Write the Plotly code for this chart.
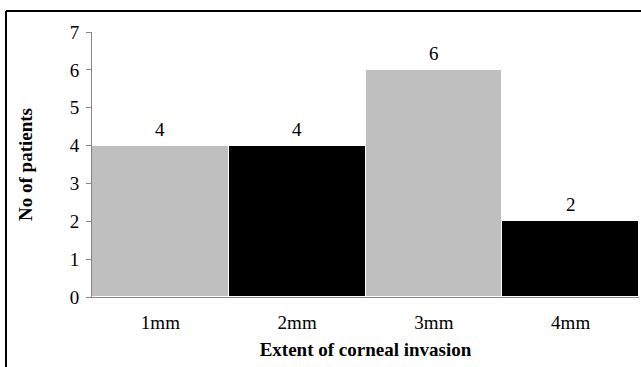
import plotly.graph_objects as go

# Extent of corneal invasion vs number of patients
categories = ["1mm", "2mm", "3mm", "4mm"]
patients = [4, 4, 6, 2]
bar_colors = ["#bfbfbf", "#000000", "#bfbfbf", "#000000"]
y_ticks = [0, 1, 2, 3, 4, 5, 6, 7]

FONT = "'Liberation Serif', 'Times New Roman', Times, serif"
AXIS_GREY = "#868686"

W, H = 641, 367
L, R, T, B = 92, 2, 32, 70
pw, ph = W - L - R, H - T - B


def px_to_paper_x(px):
    return (px - L) / pw


def px_to_paper_y(py):
    return (H - B - py) / ph


fig = go.Figure(
    go.Bar(
        x=categories,
        y=patients,
        width=1.0,
        marker=dict(color=bar_colors, line=dict(color="#ffffff", width=1)),
        hoverinfo="x+y",
    )
)

for c, v in zip(categories, patients):
    fig.add_annotation(
        x=c, y=v, text=str(v), showarrow=False,
        yanchor="bottom", yshift=4,
        font=dict(family=FONT, size=19, color="#000000"),
    )

# outer frame: only the left and top edges fall inside the canvas
frame = dict(xref="paper", yref="paper", line=dict(color="#000000", width=2), layer="above")
fig.add_shape(type="line", x0=px_to_paper_x(6), x1=px_to_paper_x(6),
              y0=px_to_paper_y(367), y1=px_to_paper_y(11), **frame)
fig.add_shape(type="line", x0=px_to_paper_x(6), x1=px_to_paper_x(641),
              y0=px_to_paper_y(11), y1=px_to_paper_y(11), **frame)

fig.update_layout(
    width=W, height=H,
    margin=dict(l=L, r=R, t=T, b=B, autoexpand=False),
    paper_bgcolor="#ffffff", plot_bgcolor="#ffffff",
    font=dict(family=FONT, size=19, color="#000000"),
    showlegend=False,
    bargap=0,
)

fig.update_xaxes(
    type="category",
    range=[-0.5, 3.5],
    showline=True, linecolor=AXIS_GREY, linewidth=1,
    ticks="", ticklabelstandoff=8,
    tickfont=dict(family=FONT, size=19),
    title=dict(text="<b>Extent of corneal invasion</b>", standoff=10,
               font=dict(family=FONT, size=19)),
    showgrid=False, zeroline=False,
)

fig.update_yaxes(
    range=[0, 7],
    tickvals=y_ticks,
    showline=True, linecolor=AXIS_GREY, linewidth=1,
    ticks="outside", ticklen=5, tickcolor=AXIS_GREY,
    ticklabelstandoff=3,
    tickfont=dict(family=FONT, size=19),
    title=dict(text="<b>No of patients</b>", standoff=32,
               font=dict(family=FONT, size=19)),
    showgrid=False, zeroline=False,
)

fig.write_html("out.html")
